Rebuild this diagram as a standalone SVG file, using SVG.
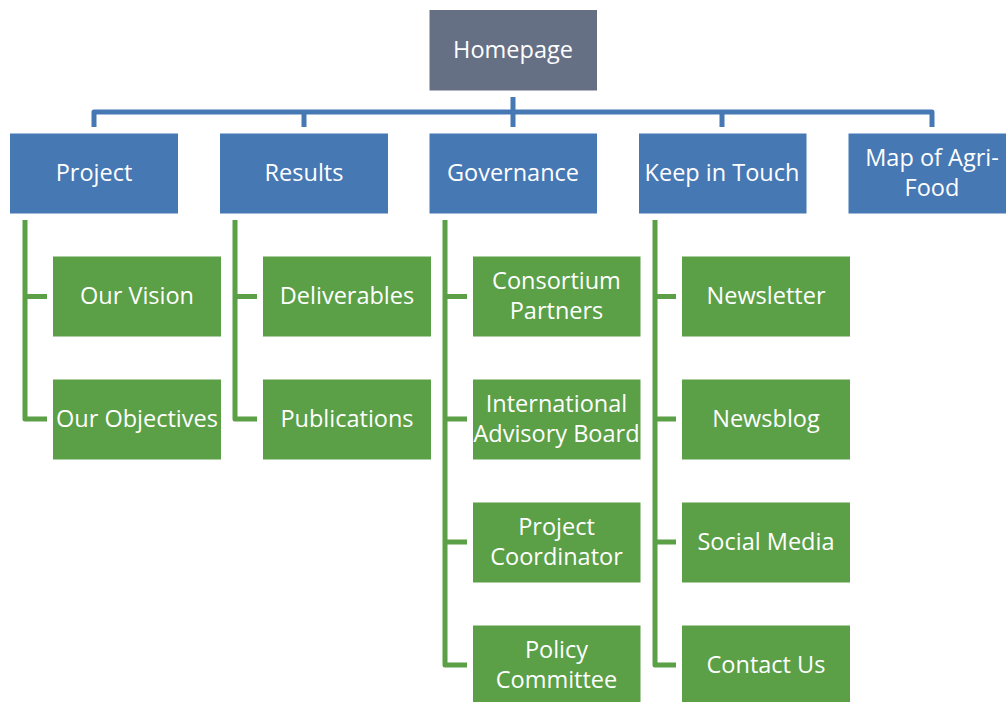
<svg xmlns="http://www.w3.org/2000/svg" width="1006" height="702" viewBox="0 0 1006 702">
<style>
.top{fill:#667085}
.l1{fill:#4678B4}
.l2{fill:#5B9F47}
.t{font-family:"Open Sans","Liberation Sans",sans-serif;font-size:23.5px;fill:#ffffff;text-anchor:middle}
.bc{fill:none;stroke:#4678B4;stroke-width:5;stroke-linejoin:round}
.gc{fill:none;stroke:#5B9F47;stroke-width:5;stroke-linejoin:round}
</style>
<rect width="1006" height="702" fill="#ffffff"/>
<g id="connectors">
<path class="bc" d="M94,127 V112 H932 V127"/>
<path class="bc" d="M513,97 V127 M304,112 V127 M722,112 V127"/>
<path class="gc" d="M25,220 V419 H47 M25,296.5 H47"/>
<path class="gc" d="M235,220 V419 H257 M235,296.5 H257"/>
<path class="gc" d="M445,220 V665 H467 M445,296.5 H467 M445,419 H467 M445,542 H467"/>
<path class="gc" d="M655,220 V665 H676 M655,296.5 H676 M655,419 H676 M655,542 H676"/>
</g>
<g id="homepage"><rect class="top" x="429.5" y="10" width="167.5" height="80.5"/><text class="t" x="513" y="58">Homepage</text></g>
<g id="project"><rect class="l1" x="10" y="133.5" width="168" height="80"/><text class="t" x="94" y="181">Project</text></g>
<g id="results"><rect class="l1" x="220" y="133.5" width="168" height="80"/><text class="t" x="304" y="181">Results</text></g>
<g id="governance"><rect class="l1" x="429.5" y="133.5" width="167.5" height="80"/><text class="t" x="513" y="181">Governance</text></g>
<g id="keep-in-touch"><rect class="l1" x="639" y="133.5" width="167.5" height="80"/><text class="t" x="722" y="181">Keep in Touch</text></g>
<g id="map-of-agri-food"><rect class="l1" x="848.5" y="133.5" width="167.5" height="80"/><text class="t" x="932" y="166">Map of Agri-</text><text class="t" x="932" y="196">Food</text></g>
<g id="our-vision"><rect class="l2" x="53" y="256.5" width="168" height="80"/><text class="t" x="137" y="304">Our Vision</text></g>
<g id="our-objectives"><rect class="l2" x="53" y="379.5" width="168" height="80"/><text class="t" x="137" y="427">Our Objectives</text></g>
<g id="deliverables"><rect class="l2" x="263" y="256.5" width="168" height="80"/><text class="t" x="347" y="304">Deliverables</text></g>
<g id="publications"><rect class="l2" x="263" y="379.5" width="168" height="80"/><text class="t" x="347" y="427">Publications</text></g>
<g id="consortium-partners"><rect class="l2" x="473" y="256.5" width="167.5" height="80"/><text class="t" x="556.5" y="289">Consortium</text><text class="t" x="556.5" y="319">Partners</text></g>
<g id="international-advisory-board"><rect class="l2" x="473" y="379.5" width="167.5" height="80"/><text class="t" x="556.5" y="412">International</text><text class="t" x="556.5" y="442">Advisory Board</text></g>
<g id="project-coordinator"><rect class="l2" x="473" y="502.5" width="167.5" height="80"/><text class="t" x="556.5" y="535">Project</text><text class="t" x="556.5" y="565">Coordinator</text></g>
<g id="policy-committee"><rect class="l2" x="473" y="625.5" width="167.5" height="80"/><text class="t" x="556.5" y="658">Policy</text><text class="t" x="556.5" y="688">Committee</text></g>
<g id="newsletter"><rect class="l2" x="682" y="256.5" width="168" height="80"/><text class="t" x="766" y="304">Newsletter</text></g>
<g id="newsblog"><rect class="l2" x="682" y="379.5" width="168" height="80"/><text class="t" x="766" y="427">Newsblog</text></g>
<g id="social-media"><rect class="l2" x="682" y="502.5" width="168" height="80"/><text class="t" x="766" y="550">Social Media</text></g>
<g id="contact-us"><rect class="l2" x="682" y="625.5" width="168" height="80"/><text class="t" x="766" y="673">Contact Us</text></g>
</svg>
